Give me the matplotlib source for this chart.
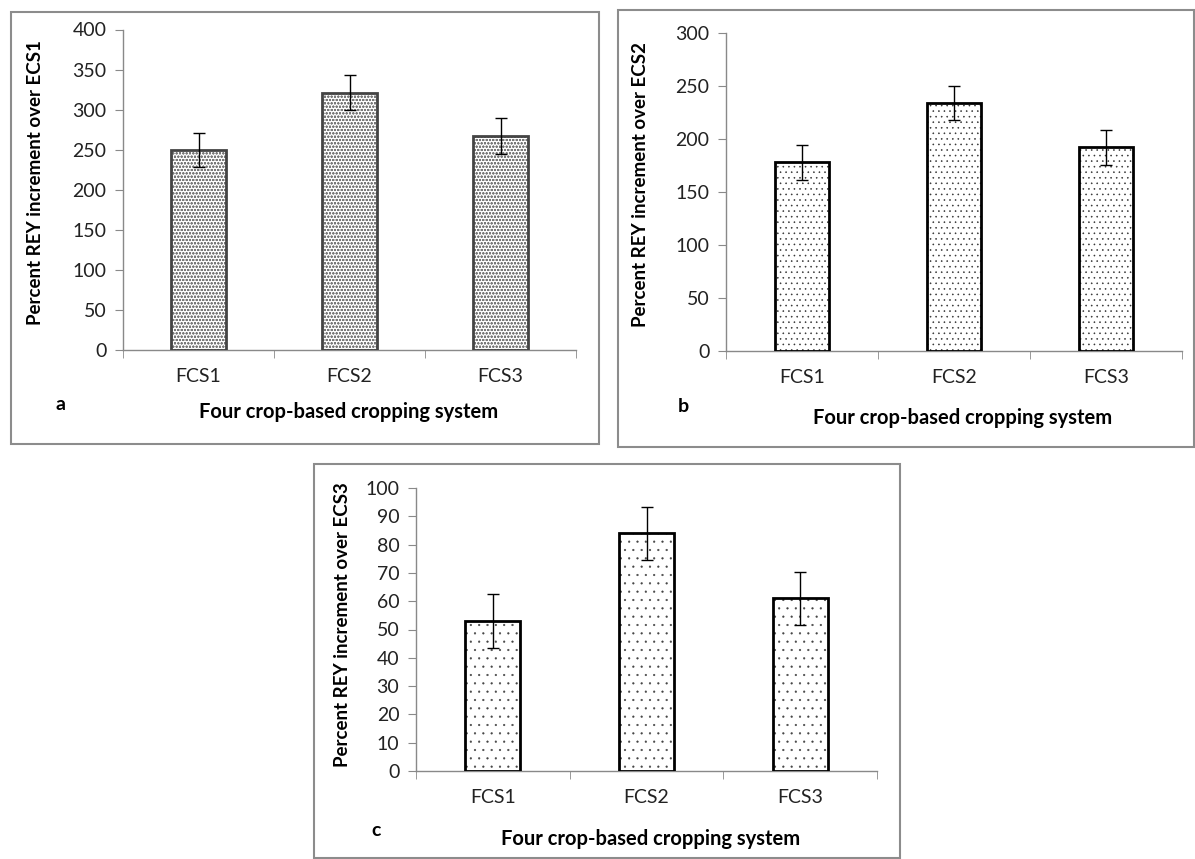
import numpy as np
import matplotlib
matplotlib.use("Agg")
import matplotlib.pyplot as plt
from matplotlib.patches import Rectangle

W, H = 1195, 859

plt.rcParams["font.family"] = ["Lato", "DejaVu Sans"]

systems = ["FCS1", "FCS2", "FCS3"]

# percent REY increment of the four crop-based systems over each existing system
rey_ecs1 = [250, 321, 267]
err_ecs1 = [21, 22, 22]
rey_ecs2 = [178, 234, 192]
err_ecs2 = [16.5, 16, 16.5]
rey_ecs3 = [53, 84, 61]
err_ecs3 = [9.4, 9.3, 9.3]

PANELS = [
    # axes / frame / text positions given in pixels of the 1195x859 canvas
    dict(vals=rey_ecs1, err=err_ecs1, ylabel="Percent REY increment over ECS1", letter="a",
         yticks=np.arange(0, 401, 50), ax_px=(123, 29.5, 576, 350), frame_px=(11, 12, 599, 444),
         letter_px=(61, 404), xlabel_px=(349, 412), ylabel_px=(36, 183),
         hatch="ooooo", hatch_col="#7a7a7a", hatch_lw=0.6, edge="#444444"),
    dict(vals=rey_ecs2, err=err_ecs2, ylabel="Percent REY increment over ECS2", letter="b",
         yticks=np.arange(0, 301, 50), ax_px=(726, 33, 1182, 351), frame_px=(618, 10, 1194, 447),
         letter_px=(683, 407), xlabel_px=(963, 418), ylabel_px=(640, 185),
         hatch="...", hatch_col="#333333", hatch_lw=0.4, edge="black"),
    dict(vals=rey_ecs3, err=err_ecs3, ylabel="Percent REY increment over ECS3", letter="c",
         yticks=np.arange(0, 101, 10), ax_px=(416, 488, 877, 771), frame_px=(314, 464, 900, 858),
         letter_px=(376, 830), xlabel_px=(651, 839), ylabel_px=(343, 625),
         hatch="..", hatch_col="#444444", hatch_lw=0.35, edge="black"),
]


def px_rect(l, t, r, b):
    return [l / W, 1 - b / H, (r - l) / W, (b - t) / H]


fig = plt.figure(figsize=(W / 100, H / 100), dpi=100)
fig.patch.set_facecolor("white")

for p in PANELS:
    l, t, r, b = p["frame_px"]
    fig.patches.append(Rectangle((l / W, 1 - b / H), (r - l) / W, (b - t) / H,
                                 transform=fig.transFigure, fill=False,
                                 edgecolor="#8c8c8c", linewidth=1.5, zorder=0))

    ax = fig.add_axes(px_rect(*p["ax_px"]))
    x = np.arange(len(systems)) + 0.5
    width = 0.36

    plt.rcParams["hatch.linewidth"] = p["hatch_lw"]
    ax.bar(x, p["vals"], width=width, color="white", edgecolor=p["hatch_col"],
           hatch=p["hatch"], linewidth=0, zorder=2)
    ax.bar(x, p["vals"], width=width, fill=False, edgecolor=p["edge"],
           linewidth=2, zorder=3)
    ax.errorbar(x, p["vals"], yerr=p["err"], fmt="none", ecolor="black",
                elinewidth=1, capsize=4.5, capthick=1, zorder=4)

    ax.set_xlim(0, len(systems))
    ax.set_ylim(0, p["yticks"][-1])
    ax.set_yticks(p["yticks"])
    ax.set_yticklabels([str(v) for v in p["yticks"]], fontsize=14, color="#222222")
    ax.set_xticks(x)
    ax.set_xticklabels(systems, fontsize=14, color="#222222")
    ax.set_xticks(np.arange(len(systems) + 1), minor=True)
    ax.tick_params(axis="x", which="major", length=0, pad=13)
    ax.tick_params(axis="x", which="minor", length=6, color="#898989", direction="out")
    ax.tick_params(axis="y", length=6, color="#898989", direction="out", pad=6)

    for side in ["top", "right"]:
        ax.spines[side].set_visible(False)
    for side in ["left", "bottom"]:
        ax.spines[side].set_color("#898989")
        ax.spines[side].set_linewidth(1)
    ax.patch.set_alpha(0)

    lx, ly = p["letter_px"]
    fig.text(lx / W, 1 - ly / H, p["letter"], fontsize=14, fontweight="bold",
             ha="center", va="center")
    xx, xy = p["xlabel_px"]
    fig.text(xx / W, 1 - xy / H, "Four crop-based cropping system", fontsize=14.5,
             fontweight="bold", ha="center", va="center")
    yx, yy = p["ylabel_px"]
    fig.text(yx / W, 1 - yy / H, p["ylabel"], fontsize=13.5, fontweight="bold",
             rotation=90, ha="center", va="center")

fig.savefig("out.png", dpi=100, facecolor="white")
